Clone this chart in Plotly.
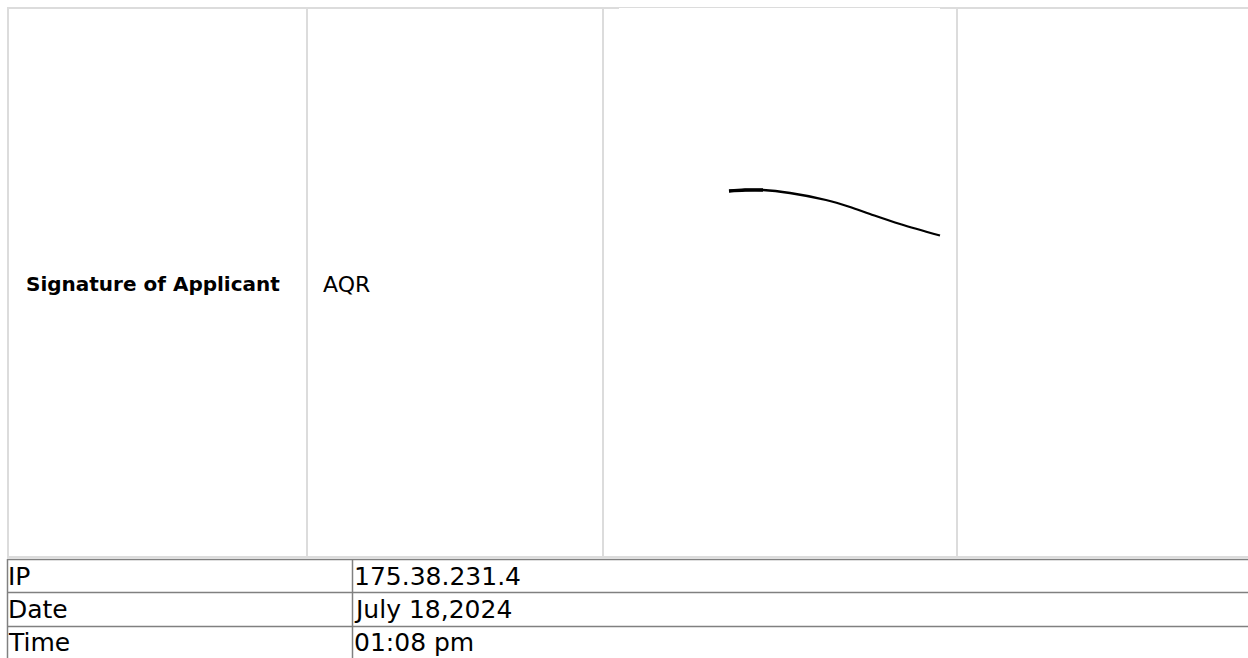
import plotly.graph_objects as go

# ---- data ----
top_labels = ["Signature of Applicant"]
top_values = ["AQR"]
info_labels = ["IP", "Date", "Time"]
info_values = ["175.38.231.4", "July 18,2024", "01:08 pm"]
# signature stroke (pixel-space points)
sig_x = [729, 745, 763, 790, 826, 850, 870, 900, 940]
sig_y = [191, 190, 190, 193, 200, 207, 214, 224, 235.5]
sig_thick_x = [729, 745, 763]
sig_thick_y = [191, 190, 190]

W, H = 1248, 658
LIGHT = "#dcdcdc"
DARK = "#808080"

fig = go.Figure()

fig.add_trace(go.Scatter(x=sig_x, y=sig_y, mode="lines",
                         line=dict(color="black", width=2.3, shape="spline"),
                         hoverinfo="skip", showlegend=False))
fig.add_trace(go.Scatter(x=sig_thick_x, y=sig_thick_y, mode="lines",
                         line=dict(color="black", width=3.5, shape="spline"),
                         hoverinfo="skip", showlegend=False))

shapes = []
def hline(y, x0, x1, color, width):
    shapes.append(dict(type="line", xref="x", yref="y", x0=x0, x1=x1, y0=y, y1=y,
                       line=dict(color=color, width=width), layer="below"))
def vline(x, y0, y1, color, width):
    shapes.append(dict(type="line", xref="x", yref="y", x0=x, x1=x, y0=y0, y1=y1,
                       line=dict(color=color, width=width), layer="below"))

# upper table (light grey)
hline(8, 7, W, LIGHT, 2)
hline(8.5, 619, 940, "white", 1)
hline(557, 7, W, LIGHT, 2)
for xv in [8, 307, 603, 957]:
    vline(xv, 7, 558, LIGHT, 2)

# lower table (darker grey)
for yv in [559.5, 592.5, 626.5]:
    hline(yv, 7, W, DARK, 1.5)
vline(7.5, 559, H, DARK, 1.5)
vline(352.5, 559, H, DARK, 1.5)

annotations = []
for lab, val in zip(top_labels, top_values):
    annotations.append(dict(x=24, y=284, xref="x", yref="y", text="<b>%s</b>" % lab,
                            showarrow=False, xanchor="left", yanchor="middle",
                            font=dict(family="DejaVu Sans", size=20, color="black")))
    annotations.append(dict(x=321, y=284, xref="x", yref="y", text=val,
                            showarrow=False, xanchor="left", yanchor="middle",
                            font=dict(family="DejaVu Sans", size=22, color="black")))

row_centers = [576, 609.5, 642.5]
for lab, val, yc in zip(info_labels, info_values, row_centers):
    annotations.append(dict(x=6, y=yc, xref="x", yref="y", text=lab,
                            showarrow=False, xanchor="left", yanchor="middle",
                            font=dict(family="DejaVu Sans", size=25, color="black")))
    annotations.append(dict(x=352, y=yc, xref="x", yref="y", text=val,
                            showarrow=False, xanchor="left", yanchor="middle",
                            font=dict(family="DejaVu Sans", size=25, color="black")))

fig.update_layout(
    width=W, height=H,
    margin=dict(l=0, r=0, t=0, b=0, pad=0),
    paper_bgcolor="white", plot_bgcolor="white",
    xaxis=dict(range=[0, W], visible=False, fixedrange=True),
    yaxis=dict(range=[H, 0], visible=False, fixedrange=True),
    shapes=shapes, annotations=annotations, showlegend=False,
)

fig.write_html(
    "out.html",
    config={"displayModeBar": False},
    post_script="document.body.style.margin='0';document.body.style.overflow='hidden';",
)
